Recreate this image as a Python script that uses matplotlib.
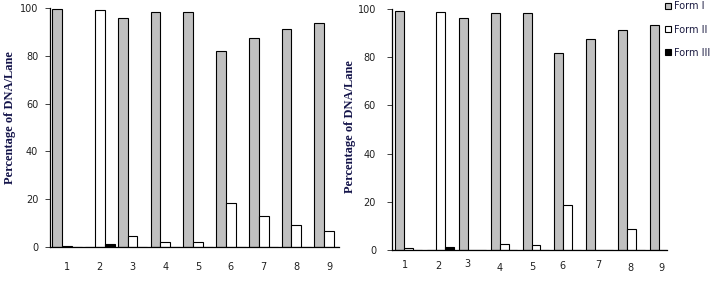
import matplotlib
matplotlib.use('Agg')
import matplotlib.pyplot as plt
from matplotlib.patches import Patch
import numpy as np

# lanes
lanes = [1, 2, 3, 4, 5, 6, 7, 8, 9]
lane_labels = ['1', '2', '3', '4', '5', '6', '7', '8', '9']
series_names = ['Form I', 'Form II', 'Form III']

# left gel (% DNA per lane)
left_form1 = [99.7, 0, 95.8, 98.3, 98.3, 82.0, 87.4, 91.2, 93.7]
left_form2 = [0.4, 99.2, 4.3, 1.8, 1.8, 18.2, 12.7, 9.0, 6.6]
left_form3 = [0, 1.2, 0, 0, 0, 0, 0, 0, 0]

# right gel (% DNA per lane)
right_form1 = [99.3, 0, 96.1, 98.2, 98.2, 81.6, 87.4, 91.1, 93.2]
right_form2 = [0.8, 98.6, 0, 2.4, 1.9, 18.5, 0, 8.6, 0]
right_form3 = [0, 1.1, 0, 0, 0, 0, 0, 0, 0]

colors = ['#c0c0c0', 'white', 'black']
ylab_color = '#14144a'

fig = plt.figure(figsize=(7.18, 2.84), dpi=100)
ax1 = fig.add_axes([50/718, 1 - 246.7/284, 289/718, 238.4/284])
ax2 = fig.add_axes([392/718, 1 - 250/284, 275/718, 241/284])


def draw_panel(ax, f1, f2, f3, width):
    x = np.array(lanes, dtype=float)
    for k, vals in enumerate([f1, f2, f3]):
        ax.bar(x + (k - 1) * width, vals, width, color=colors[k],
               edgecolor='black', linewidth=0.8, zorder=2)
    ax.set_ylim(0, 100)
    ax.set_yticks([0, 20, 40, 60, 80, 100])
    for s in ['top', 'right']:
        ax.spines[s].set_visible(False)
    ax.spines['left'].set_linewidth(0.9)
    ax.spines['bottom'].set_linewidth(0.9)
    ax.tick_params(axis='y', length=3.5, width=0.7, color='#404040',
                   labelsize=7, labelcolor='#202020')
    ax.tick_params(axis='x', length=0, labelsize=7, labelcolor='#202020')


draw_panel(ax1, left_form1, left_form2, left_form3, 0.30)
ax1.set_xlim(0.48, 9.3)
ax1.set_xticks(lanes, lane_labels)
ax1.tick_params(axis='x', pad=11)
ax1.tick_params(axis='y', pad=5)

draw_panel(ax2, right_form1, right_form2, right_form3, 0.28)
ax2.set_xlim(0.483, 9.11)
ax2.set_xticks([])
ax2.tick_params(axis='y', pad=8)
# labels on the right gel sit a little unevenly, as in the original
r_dx = [-3, -2, -5, -4, -3.5, -5, -1.5, -1, -2]
r_dy = [15, 16, 14, 18, 16.7, 16, 15, 18, 18]
for lane, lab, dx, dy in zip(lanes, lane_labels, r_dx, r_dy):
    ax2.annotate(lab, xy=(lane, 0), xycoords=('data', 'axes fraction'),
                 xytext=(dx * 0.72, -dy * 0.72), textcoords='offset points',
                 ha='center', va='center', fontsize=7, color='#202020')

ylab = 'Percentage of DNA/Lane'
fig.text(10/718, 1 - 117.5/284, ylab, rotation=90, ha='center', va='center',
         family='Liberation Serif', fontweight='bold', fontsize=9, color=ylab_color)
fig.text(350/718, 1 - 127/284, ylab, rotation=90, ha='center', va='center',
         family='Liberation Serif', fontweight='bold', fontsize=9, color=ylab_color)

handles = [Patch(facecolor=c, edgecolor='black', linewidth=0.8) for c in colors]
fig.legend(handles, series_names, loc='upper left', bbox_to_anchor=(664/718, 1.0),
           frameon=False, fontsize=7, handlelength=0.6, handleheight=0.6,
           handletextpad=0.3, labelspacing=1.35, borderaxespad=0, borderpad=0.15,
           labelcolor='#1a1a40')

fig.savefig('out.png', dpi=100)
